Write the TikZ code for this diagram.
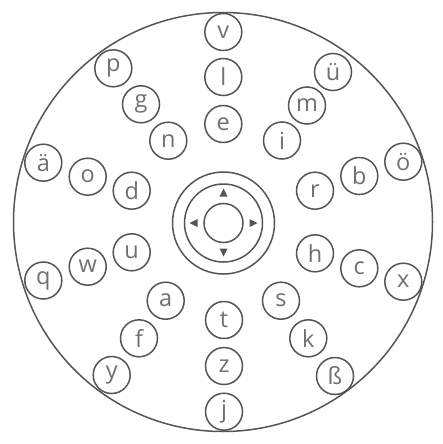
\documentclass[tikz,border=0pt]{standalone}
\usepackage{fontspec}
\setmainfont{Open Sans}
\definecolor{linec}{HTML}{555555}
\definecolor{textc}{HTML}{707070}
\tikzset{
  key/.style={circle, draw=linec, line width=1.5pt, minimum size=37pt, inner sep=0pt,
    text=textc, font=\fontsize{23.5}{23.5}\selectfont},
  ring/.style={draw=linec, line width=1.5pt},
  tri/.style={fill=linec, draw=none}
}
\begin{document}
\begin{tikzpicture}[x=1pt,y=-1pt]
\useasboundingbox (0,0) rectangle (443,444);
\fill[white] (0,0) rectangle (443,444);
\draw[ring] (223,222) circle[radius=209.5];
% center control
\draw[ring] (223.5,223) circle[radius=51];
\draw[ring] (223.5,223) circle[radius=39];
\node[key, minimum size=39pt] (ctr) at (223.5,223) {};
\fill[tri] (223.5,188.5) -- (227.5,196.5) -- (219.5,196.5) -- cycle;
\fill[tri] (223.5,256.5) -- (227.5,248.5) -- (219.5,248.5) -- cycle;
\fill[tri] (189.5,223) -- (197.5,219) -- (197.5,227) -- cycle;
\fill[tri] (257.5,223) -- (249.5,219) -- (249.5,227) -- cycle;
% keys
\node[key] (v) at (223.3,32) {v};
\node[key] (l) at (223.3,77) {l};
\node[key] (e) at (223.3,124) {e};
\node[key] (ue) at (333,72) {ü};
\node[key] (m) at (307,105.5) {m};
\node[key] (i) at (282,140.5) {i};
\node[key] (p) at (113.3,68.3) {p};
\node[key] (g) at (141,104.3) {g};
\node[key] (n) at (168.3,140.7) {n};
\node[key] (ae) at (43.3,162.7) {ä};
\node[key] (o) at (87.7,176.7) {o};
\node[key] (d) at (131.7,190.7) {d};
\node[key] (r) at (315,190.7) {r};
\node[key] (b) at (359.3,176) {b};
\node[key] (oe) at (403.3,161.7) {ö};
\node[key] (u) at (131.7,252.3) {u};
\node[key] (w) at (87.7,266.7) {w};
\node[key] (q) at (43.3,280.5) {q};
\node[key] (h) at (315,253.3) {h};
\node[key] (c) at (359.3,268.3) {c};
\node[key] (x) at (403.3,281.7) {x};
\node[key] (a) at (165.7,300.7) {a};
\node[key] (f) at (139,338.3) {f};
\node[key] (y) at (111.7,375) {y};
\node[key] (t) at (224,320) {t};
\node[key] (z) at (224,366) {z};
\node[key] (j) at (224,411.7) {j};
\node[key] (s) at (281,300.7) {s};
\node[key] (k) at (308.3,338.3) {k};
\node[key] (ss) at (335,376) {ß};
\end{tikzpicture}
\end{document}
